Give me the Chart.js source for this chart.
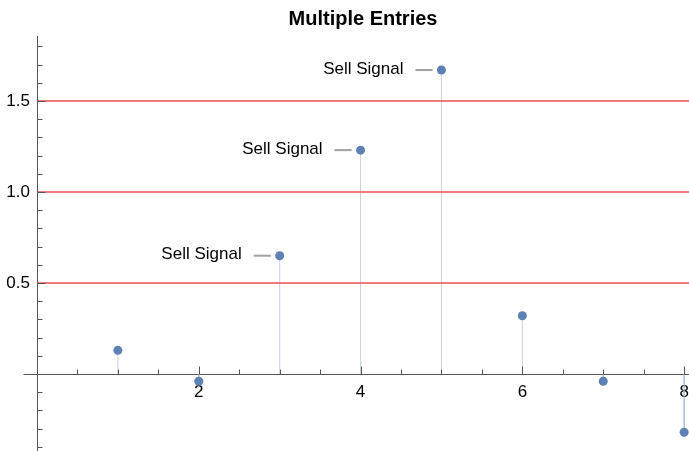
<!DOCTYPE html>
<html>
<head>
<meta charset="utf-8">
<script src="https://cdn.jsdelivr.net/npm/chart.js@4/dist/chart.umd.min.js"></script>
<style>
  html, body { margin: 0; padding: 0; background: #fff; }
  canvas { display: block; }
</style>
</head>
<body>
<canvas id="c" width="689" height="451"></canvas>
<script>
// ---- data ----
const xValues = [1, 2, 3, 4, 5, 6, 7, 8];
const yValues = [0.13, -0.04, 0.65, 1.23, 1.67, 0.32, -0.04, -0.32];
const pointLabels = ['', '', 'Sell Signal', 'Sell Signal', 'Sell Signal', '', '', ''];
const thresholds = [0.5, 1.0, 1.5];
const xTickLabels = [2, 4, 6, 8];
const yTickLabels = [0.5, 1.0, 1.5];
const xRange = [0, 8.06];
const yRange = [-0.423, 1.857];
const xMinorStep = 0.5;
const yMinorStep = 0.1;
const titleText = 'Multiple Entries';

const FONT = '"Liberation Sans", Arial, Helvetica, sans-serif';
Chart.defaults.font.family = FONT;

const near = (a, b) => Math.abs(a - b) < 1e-6;

function stepTicks(min, max, step) {
  const out = [];
  const start = Math.ceil(min / step - 1e-9);
  const end = Math.floor(max / step + 1e-9);
  for (let k = start; k <= end; k++) out.push({ value: Math.round(k * step * 1e6) / 1e6 });
  return out;
}

// stems as one broken line
const stemData = [];
xValues.forEach((x, i) => {
  stemData.push({x: x, y: 0});
  stemData.push({x: x, y: yValues[i]});
  stemData.push({x: x, y: null});
});

const thresholdSets = thresholds.map(t => ({
  type: 'line',
  data: [{x: xRange[0], y: t}, {x: xRange[1], y: t}],
  borderColor: 'rgba(240,60,60,0.9)',
  borderWidth: 1.6,
  pointRadius: 0,
  order: 1
}));

const extrasPlugin = {
  id: 'extras',
  afterDatasetsDraw(chart) {
    const ctx = chart.ctx;
    const xs = chart.scales.x, ys = chart.scales.y;
    ctx.save();
    xValues.forEach((x, i) => {
      const lbl = pointLabels[i];
      if (!lbl) return;
      const px = xs.getPixelForValue(x);
      const py = ys.getPixelForValue(yValues[i]);
      ctx.strokeStyle = '#a0a0a0';
      ctx.lineWidth = 2;
      ctx.beginPath();
      ctx.moveTo(px - 26, py);
      ctx.lineTo(px - 9, py);
      ctx.stroke();
      ctx.fillStyle = '#000';
      ctx.font = '17px ' + FONT;
      ctx.textAlign = 'right';
      ctx.textBaseline = 'middle';
      ctx.fillText(lbl, px - 38, py - 1);
    });
    ctx.restore();
  },
  afterDraw(chart) {
    const ctx = chart.ctx;
    const xs = chart.scales.x, ys = chart.scales.y;
    const y0 = Math.round(ys.getPixelForValue(0)) + 0.5;
    const x0 = Math.round(xs.getPixelForValue(0)) + 0.5;
    ctx.save();
    ctx.strokeStyle = '#555';
    ctx.lineWidth = 1;
    ctx.beginPath();
    ctx.moveTo(x0 - 14, y0);
    ctx.lineTo(x0, y0);
    xs.ticks.forEach(t => {
      const v = t.value;
      if (near(v, 0)) return;
      const major = xTickLabels.some(l => near(l, v));
      const px = Math.round(xs.getPixelForValue(v)) + 0.5;
      ctx.moveTo(px, y0);
      ctx.lineTo(px, y0 - (major ? 8 : 5));
    });
    ys.ticks.forEach(t => {
      const v = t.value;
      const major = yTickLabels.some(l => near(l, v)) || near(v, 0);
      const py = Math.round(ys.getPixelForValue(v)) + 0.5;
      ctx.moveTo(x0, py);
      ctx.lineTo(x0 + (major ? 8 : 5), py);
    });
    ctx.stroke();
    ctx.restore();
  }
};

new Chart(document.getElementById('c'), {
  type: 'scatter',
  data: {
    datasets: [
      {
        type: 'scatter',
        data: xValues.map((x, i) => ({x: x, y: yValues[i]})),
        backgroundColor: '#5e81b5',
        borderColor: '#5e81b5',
        pointRadius: 4.5,
        borderWidth: 0,
        clip: false,
        order: 0
      },
      ...thresholdSets,
      {
        type: 'line',
        data: stemData,
        borderColor: 'rgba(150,175,215,0.55)',
        borderWidth: 1,
        pointRadius: 0,
        spanGaps: false,
        order: 2
      }
    ]
  },
  options: {
    responsive: false,
    devicePixelRatio: 1,
    animation: false,
    events: [],
    layout: { autoPadding: false, padding: { left: 0, right: 0, top: 0, bottom: 0 } },
    plugins: {
      legend: { display: false },
      tooltip: { enabled: false },
      title: {
        display: true,
        text: titleText,
        fullSize: false,
        color: '#000',
        font: { family: FONT, size: 20, weight: 'bold' },
        padding: { top: 7.5, bottom: 4.5 }
      }
    },
    scales: {
      x: {
        type: 'linear',
        min: xRange[0],
        max: xRange[1],
        position: { y: 0 },
        grid: { display: true, drawOnChartArea: false, drawTicks: false, color: '#555' },
        border: { display: true, color: '#555', width: 1 },
        ticks: {
          autoSkip: false,
          maxRotation: 0,
          padding: 8,
          color: '#000',
          font: { size: 17 },
          callback: (v) => (xTickLabels.some(l => near(l, v)) ? String(v) : '')
        },
        afterBuildTicks: (s) => { s.ticks = stepTicks(xRange[0], xRange[1], xMinorStep); },
        afterFit: (s) => { s.height = 0; s.paddingLeft = 0; s.paddingRight = 0; s.paddingTop = 0; s.paddingBottom = 0; }
      },
      y: {
        type: 'linear',
        min: yRange[0],
        max: yRange[1],
        position: 'left',
        grid: { display: true, drawOnChartArea: false, drawTicks: false, color: '#555' },
        border: { display: true, color: '#555', width: 1 },
        ticks: {
          autoSkip: false,
          padding: 7,
          color: '#000',
          font: { size: 17 },
          callback: (v) => (yTickLabels.some(l => near(l, v)) ? Number(v).toFixed(1) : '')
        },
        afterBuildTicks: (s) => { s.ticks = stepTicks(yRange[0], yRange[1], yMinorStep); },
        afterFit: (s) => { s.width = 37; s.paddingLeft = 0; s.paddingRight = 0; s.paddingTop = 0; s.paddingBottom = 0; }
      }
    }
  },
  plugins: [extrasPlugin]
});
</script>
</body>
</html>
